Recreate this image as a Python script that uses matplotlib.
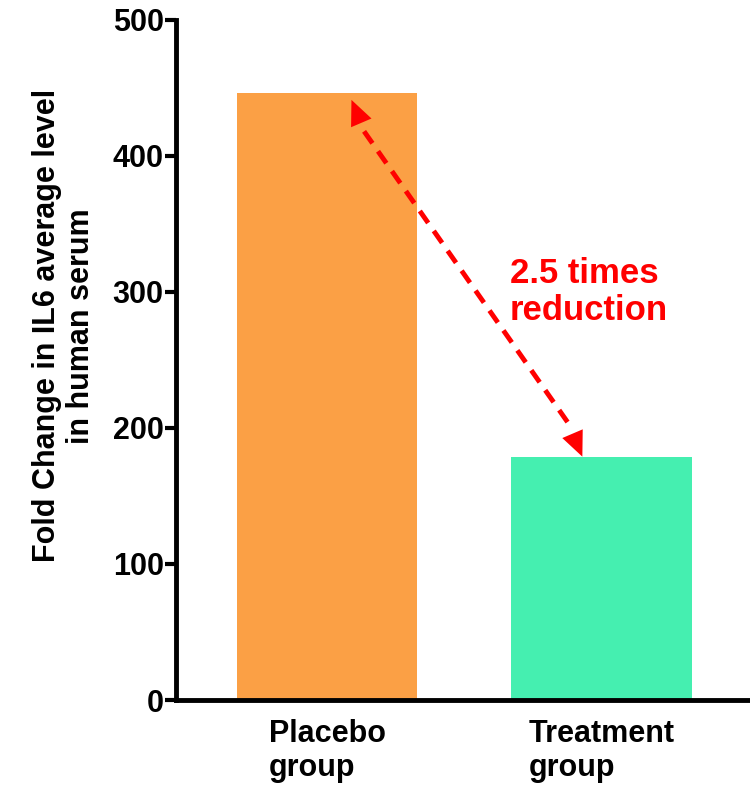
import matplotlib
matplotlib.use('Agg')
import matplotlib.pyplot as plt

plt.rcParams['font.family'] = ['Liberation Sans', 'DejaVu Sans']
plt.rcParams['font.weight'] = 'bold'

groups = ['Placebo\ngroup', 'Treatment\ngroup']
values = [446, 179]
colors = ['#FBA045', '#45EFB0']
yticks = [0, 100, 200, 300, 400, 500]

fig = plt.figure(figsize=(7.5, 7.91), dpi=100)
ax = fig.add_axes([0.235, 0.115, 0.763, 0.86])

x = [0, 1]
ax.bar(x, values, width=0.657, color=colors)
ax.set_xlim(-0.551, 1.536)
ax.set_ylim(0, 500)
ax.set_yticks(yticks)
ax.set_xticks(x)
ax.set_xticklabels(groups)
ax.tick_params(axis='y', labelsize=22, width=3, length=8, pad=1, direction='out')
ax.tick_params(axis='x', labelsize=22, length=0, pad=14)
for lab in ax.get_xticklabels():
    lab.set_fontweight('bold')
    lab.set_multialignment('left')
    lab.set_linespacing(1.15)
for lab in ax.get_yticklabels():
    lab.set_fontweight('bold')

for s in ['top', 'right']:
    ax.spines[s].set_visible(False)
ax.spines['left'].set_linewidth(3.5)
ax.spines['bottom'].set_linewidth(3.5)

ax.set_ylabel('Fold Change in IL6 average level\nin human serum', fontsize=22,
              fontweight='bold')
ax.yaxis.set_label_coords(-0.14, 0.55)

# dashed double arrow between the two bar tops
x0, y0 = 0.084, values[0] - 3
x1, y1 = 0.934, values[1] - 2
ax.plot([x0 + 0.05, x1 - 0.05], [y0 - 25, y1 + 25], color='red', lw=3.5,
        ls=(0, (3, 2)))
head = dict(arrowstyle='-|>,head_length=0.9,head_width=0.4', color='red',
            lw=0, mutation_scale=20)
ax.annotate('', xy=(x0, y0), xytext=(x0 + 0.07, y0 - 33), arrowprops=head)
ax.annotate('', xy=(x1, y1), xytext=(x1 - 0.07, y1 + 33), arrowprops=head)
ax.text(0.666, 300, '2.5 times\nreduction', color='red', fontsize=25,
        fontweight='bold', ha='left', va='center', linespacing=1.15)

fig.savefig('out.png', dpi=100)
